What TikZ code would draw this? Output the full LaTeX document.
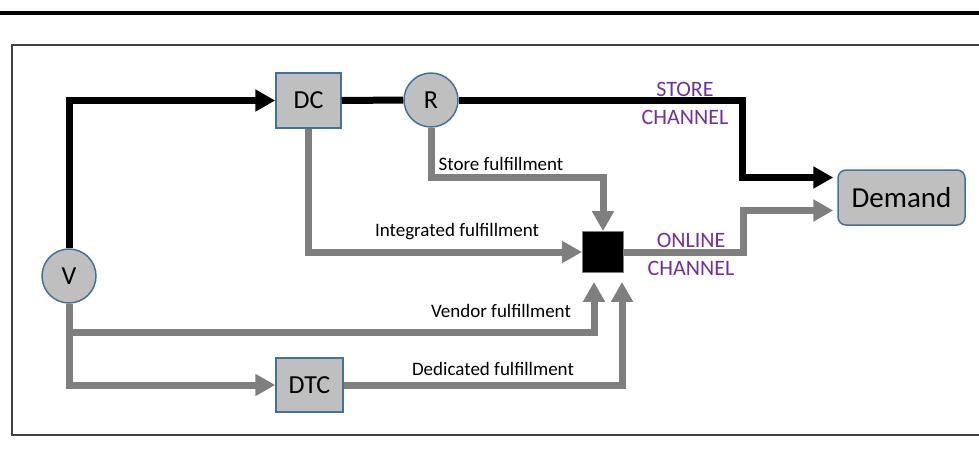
\documentclass[tikz,border=0pt]{standalone}
\usepackage{fontspec}
\setmainfont{Carlito}
\usetikzlibrary{arrows.meta}
\definecolor{flowgray}{RGB}{127,127,127}
\definecolor{sitefill}{RGB}{191,191,191}
\definecolor{siteedge}{RGB}{65,113,156}
\definecolor{chanpurple}{RGB}{112,48,160}

\begin{document}
\begin{tikzpicture}[x=1pt,y=-1pt,
    site/.style={draw=siteedge,fill=sitefill,line width=1.5pt,inner sep=0pt,
        font=\fontsize{26}{30}\selectfont},
    sitebox/.style={site,rectangle,minimum width=65pt,minimum height=55pt},
    sitecirc/.style={site,circle,minimum size=54pt},
    flow/.style={line width=7pt,draw=flowgray},
    mainflow/.style={line width=7pt,draw=black},
    tip/.style={-{Triangle[length=20pt,width=21pt]}},
    lbl/.style={font=\fontsize{19}{22}\selectfont},
    chan/.style={text=chanpurple,align=center,font=\fontsize{22}{28}\selectfont}]
    \useasboundingbox (0,0) rectangle (979,464);

    % rule and frame
    \draw[line width=4pt] (0,12.5) -- (979,12.5);
    \draw[line width=1.5pt,black!75] (979,45) -| (12,435) -- (979,435);

    \node[sitecirc] (V) at (69,276) {V};
    \node[sitebox] (DC) at (308.5,100.5) {DC};
    \node[sitecirc] (R) at (431,100) {R};
    \node[sitebox,minimum width=67pt,minimum height=54pt] (DTC) at (309.5,385) {DTC};
    \node[fill=black,draw=flowgray,line width=0.8pt,minimum size=41pt,inner sep=0pt]
        (S) at (603,252) {};
    \node[site,rounded corners=8pt,minimum width=127pt,minimum height=55pt,
        font=\fontsize{29}{34}\selectfont] (D) at (901.5,197.5) {Demand};

    % store channel
    \draw[mainflow,tip] (V.north) |- (DC.west);
    \draw[mainflow] (DC.east) -- (R.west);
    \draw[mainflow,tip,shorten >=4pt] (R.east) -- ++(284,0) |- ([yshift=20pt]D.west);

    % online channel
    \draw[flow,tip] (R.south) -- ++(0,50) -| (S.north);
    \draw[flow,tip] (DC.south) |- (S.west);
    \draw[flow,tip,shorten >=9pt] (V.south) -- ++(0,29) -| ([xshift=-9pt]S.south);
    \draw[flow,tip] (V.south) |- (DTC.west);
    \draw[flow,tip,shorten >=9pt] (DTC.east) -| ([xshift=19pt]S.south);
    \draw[flow,tip,shorten >=4pt] (S.east) -- ++(120,0) |- ([yshift=-13pt]D.west);

    \node[lbl] at (501,164) {Store fulfillment};
    \node[lbl] at (457,232) {Integrated fulfillment};
    \node[lbl] at (501,311) {Vendor fulfillment};
    \node[lbl] at (493,369) {Dedicated fulfillment};
    \node[chan] at (685,103) {STORE\\CHANNEL};
    \node[chan] at (691,254) {ONLINE\\CHANNEL};
\end{tikzpicture}
\end{document}
